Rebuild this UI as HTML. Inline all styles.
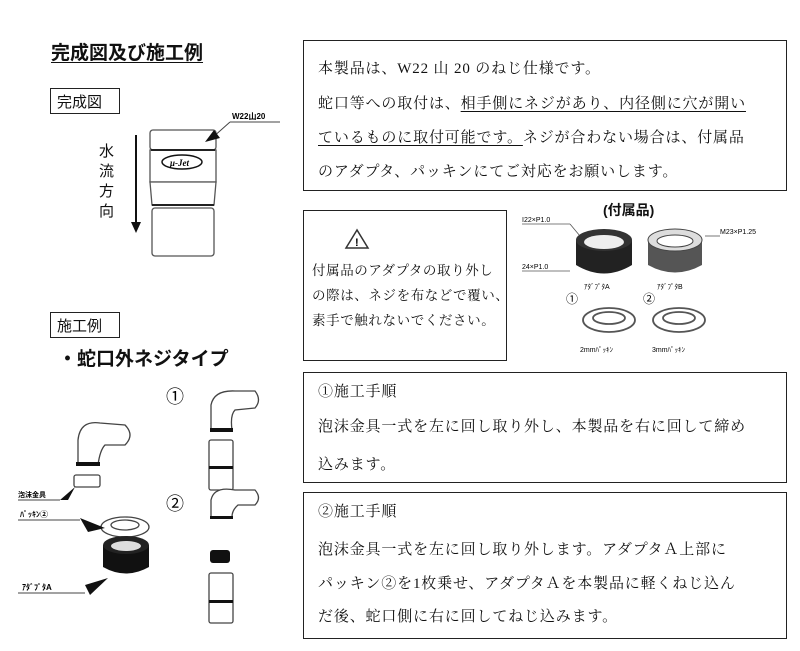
<!DOCTYPE html>
<html><head><meta charset="utf-8"><style>
body{margin:0;background:#fff;width:800px;height:651px;position:relative;overflow:hidden;font-family:"Liberation Serif","Noto Serif CJK SC","Noto Sans CJK JP",serif;color:#111}
.a{position:absolute;white-space:nowrap}
.box{position:absolute;border:1.5px solid #222;box-sizing:border-box}
.g{font-family:"Liberation Sans","Noto Sans CJK JP",sans-serif}
.t{font-size:15px;letter-spacing:0.85px}
u{text-decoration:underline;text-underline-offset:3px}
</style></head><body>
<div class="a g" style="left:51px;top:38px;font-size:19px;font-weight:bold;text-decoration:underline;text-underline-offset:3px">完成図及び施工例</div>
<div class="box g" style="left:50px;top:88px;width:70px;height:26px;font-size:15px;padding:2px 0 0 6px">完成図</div>
<div class="box g" style="left:50px;top:312px;width:70px;height:26px;font-size:15px;padding:2px 0 0 6px">施工例</div>
<div class="a g" style="left:58px;top:344px;font-size:19px;font-weight:bold">・蛇口外ネジタイプ</div>
<div class="a g" style="left:99px;top:142px;font-size:15px;line-height:20px;width:16px;white-space:normal">水流方向</div>

<div class="box" style="left:303px;top:40px;width:484px;height:151px"></div>
<div class="a t" style="left:318px;top:57px">本製品は、W22 山 20 のねじ仕様です。</div>
<div class="a t" style="left:318px;top:92px">蛇口等への取付は、<u>相手側にネジがあり、内径側に穴が開い</u></div>
<div class="a t" style="left:318px;top:126px"><u>ているものに取付可能です。</u>ネジが合わない場合は、付属品</div>
<div class="a t" style="left:318px;top:160px">のアダプタ、パッキンにてご対応をお願いします。</div>

<div class="box" style="left:303px;top:210px;width:204px;height:151px"></div>
<div class="a" style="left:312px;top:258px;font-size:13.5px;letter-spacing:0.6px;line-height:25px">付属品のアダプタの取り外し<br>の際は、ネジを布などで覆い、<br>素手で触れないでください。</div>

<div class="box" style="left:303px;top:372px;width:484px;height:111px"></div>
<div class="a t" style="left:318px;top:380px">①施工手順</div>
<div class="a t" style="left:318px;top:415px">泡沫金具一式を左に回し取り外し、本製品を右に回して締め</div>
<div class="a t" style="left:318px;top:453px">込みます。</div>

<div class="box" style="left:303px;top:492px;width:484px;height:147px"></div>
<div class="a t" style="left:318px;top:500px">②施工手順</div>
<div class="a t" style="left:318px;top:538px">泡沫金具一式を左に回し取り外します。アダプタＡ上部に</div>
<div class="a t" style="left:318px;top:572px">パッキン②を1枚乗せ、アダプタＡを本製品に軽くねじ込ん</div>
<div class="a t" style="left:318px;top:605px">だ後、蛇口側に右に回してねじ込みます。</div>

<div class="a g" style="left:603px;top:200px;font-size:14px;font-weight:bold">(付属品)</div>

<svg class="a" style="left:0;top:0" width="800" height="651" font-family="Liberation Sans, Noto Sans CJK JP, sans-serif">
<polygon points="357,230 346,248 368,248" fill="#fff" stroke="#333" stroke-width="1.5"/>
<text x="355" y="246" font-size="11" font-weight="bold">!</text>
<line x1="136" y1="135" x2="136" y2="225" stroke="#111" stroke-width="2"/>
<polygon points="131,222 141,222 136,233" fill="#111"/>
<g stroke="#555" stroke-width="1.3" fill="#fff">
<rect x="150" y="130" width="66" height="20" rx="3"/>
<rect x="150" y="150" width="66" height="32"/>
<path d="M150,182 L216,182 L214,205 L152,205 Z"/>
<rect x="152" y="208" width="62" height="48" rx="3"/>
</g>
<line x1="151" y1="150" x2="215" y2="150" stroke="#222" stroke-width="2"/>
<line x1="152" y1="205" x2="214" y2="205" stroke="#222" stroke-width="2"/>
<ellipse cx="182" cy="162" rx="20" ry="7" fill="#fff" stroke="#111" stroke-width="1.5"/>
<text x="170" y="166" font-size="9" font-style="italic" font-weight="bold" font-family="Liberation Serif">μ-Jet</text>
<line x1="212" y1="138" x2="230" y2="122" stroke="#444"/>
<line x1="230" y1="122" x2="280" y2="122" stroke="#444"/>
<polygon points="205,142 214,130 220,138" fill="#111"/>
<text x="232" y="119" font-size="8" font-weight="bold">W22山20</text>
<g font-size="7">
<text x="522" y="222">I22×P1.0</text><text x="522" y="269">24×P1.0</text>
<text x="720" y="234">M23×P1.25</text>
<text x="584" y="289">ｱﾀﾞﾌﾟﾀA</text><text x="657" y="289">ｱﾀﾞﾌﾟﾀB</text>
<text x="580" y="352">2mmﾊﾟｯｷﾝ</text><text x="652" y="352">3mmﾊﾟｯｷﾝ</text>
</g>
<line x1="522" y1="224" x2="570" y2="224" stroke="#555" stroke-width=".8"/><line x1="570" y1="224" x2="580" y2="236" stroke="#555" stroke-width=".8"/>
<line x1="522" y1="271" x2="570" y2="271" stroke="#555" stroke-width=".8"/>
<line x1="705" y1="236" x2="720" y2="236" stroke="#555" stroke-width=".8"/>
<g>
<path d="M576,240 L576,265 Q604,282 632,265 L632,240 Z" fill="#222"/>
<ellipse cx="604" cy="240" rx="28" ry="11" fill="#333"/>
<ellipse cx="604" cy="242" rx="20" ry="7" fill="#eee"/>
<path d="M648,240 L648,265 Q675,280 702,265 L702,240 Z" fill="#555"/>
<ellipse cx="675" cy="240" rx="27" ry="11" fill="#ddd" stroke="#444"/>
<ellipse cx="675" cy="241" rx="18" ry="6" fill="#fff" stroke="#444"/>
</g>
<g fill="#fff" stroke="#555" stroke-width="1.8">
<ellipse cx="609" cy="320" rx="26" ry="12"/><ellipse cx="609" cy="318" rx="16" ry="6"/>
<ellipse cx="679" cy="320" rx="26" ry="12"/><ellipse cx="679" cy="318" rx="16" ry="6"/>
</g>
<text x="566" y="303" font-size="12">①</text><text x="643" y="303" font-size="12">②</text>
<g fill="#fff" stroke="#444" stroke-width="1.3">
<path d="M78,465 L78,440 Q80,420 100,423 L125,425 Q135,435 125,445 L105,445 Q100,450 98,465 Z"/>
<rect x="74" y="475" width="26" height="12" rx="2"/>
<ellipse cx="125" cy="527" rx="24" ry="10"/><ellipse cx="125" cy="525" rx="14" ry="5"/>
</g>
<rect x="76" y="462" width="24" height="4" fill="#111"/>
<path d="M103,545 L103,567 Q126,580 149,567 L149,545 Z" fill="#111"/>
<ellipse cx="126" cy="545" rx="23" ry="9" fill="#222"/><ellipse cx="126" cy="546" rx="15" ry="5" fill="#ddd"/>
<g font-size="8" font-weight="bold"><text x="18" y="497" font-size="7">泡沫金具</text><text x="20" y="517">ﾊﾟｯｷﾝ②</text><text x="22" y="590">ｱﾀﾞﾌﾟﾀA</text></g>
<line x1="18" y1="500" x2="60" y2="500" stroke="#444"/><polygon points="60,500 75,487 68,500" fill="#111"/>
<line x1="18" y1="520" x2="80" y2="520" stroke="#444"/><polygon points="80,518 105,528 88,532" fill="#111"/>
<line x1="18" y1="593" x2="85" y2="593" stroke="#444"/><polygon points="85,585 108,578 90,595" fill="#111"/>
<text x="166" y="403" font-size="18">①</text><text x="166" y="510" font-size="18">②</text>
<g fill="#fff" stroke="#444" stroke-width="1.3">
<path d="M211,430 L211,405 Q214,390 235,391 L255,391 Q262,400 255,408 L235,410 Q230,415 232,430 Z"/>
<rect x="209" y="440" width="24" height="50" rx="2"/>
<path d="M211,517 L211,500 Q214,486 235,490 L255,490 Q262,498 255,505 L238,505 Q232,510 232,517 Z"/>
<rect x="209" y="573" width="24" height="50" rx="2"/>
</g>
<rect x="210" y="428" width="23" height="4" fill="#111"/>
<rect x="209" y="466" width="24" height="3" fill="#111"/>
<rect x="210" y="516" width="23" height="3" fill="#111"/>
<rect x="210" y="550" width="20" height="13" rx="3" fill="#111"/>
<rect x="209" y="600" width="24" height="3" fill="#111"/>
</svg>
</body></html>
